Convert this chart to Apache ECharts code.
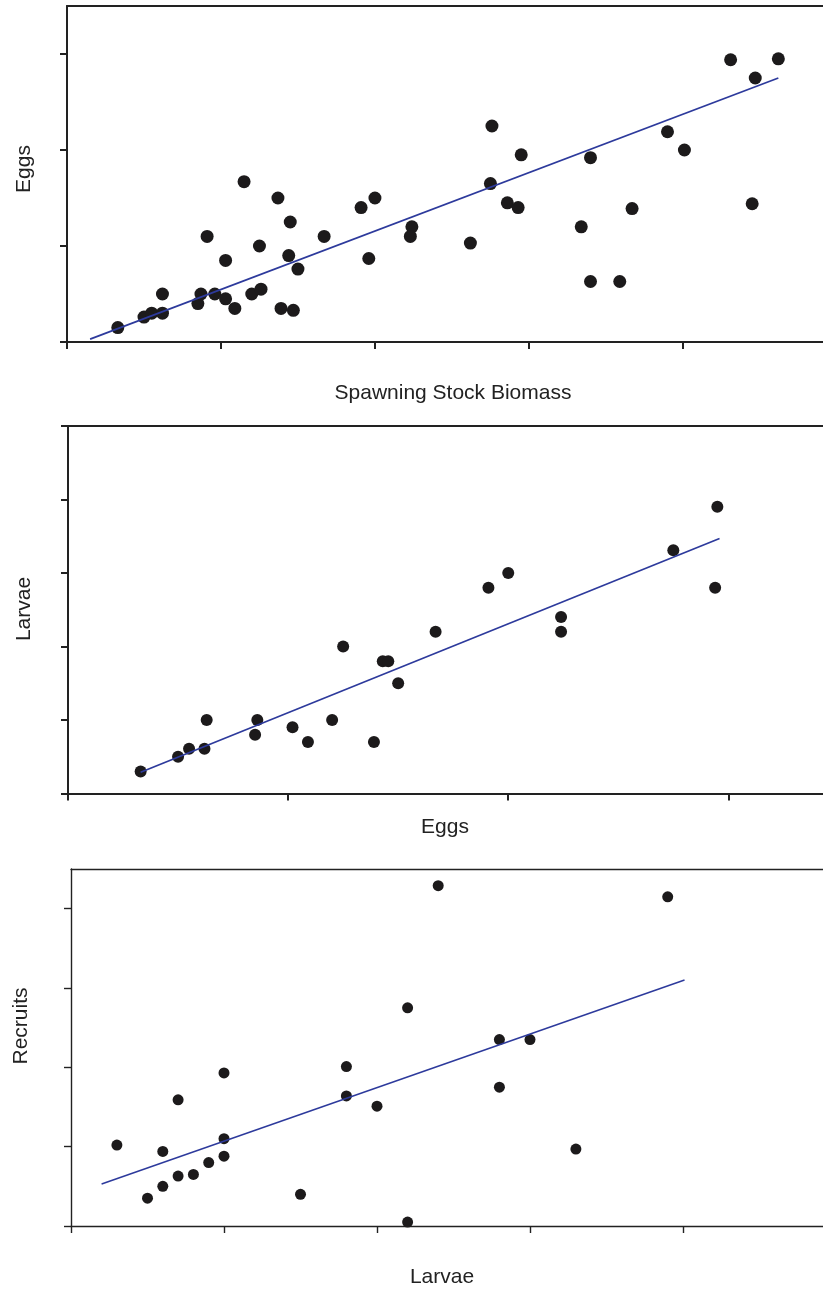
<!DOCTYPE html>
<html>
<head>
<meta charset="utf-8">
<title>Stock, eggs, larvae and recruits</title>
<script src="https://cdn.jsdelivr.net/npm/echarts@6/dist/echarts.min.js"></script>
<style>
  html, body { margin: 0; padding: 0; background: #ffffff; }
  #chart { width: 823px; height: 1289px; }
</style>
</head>
<body>
<div id="chart"></div>
<script>
// Panel 1: eggs against spawning stock biomass
const ssbX = [0.33, 0.50, 0.55, 0.62, 0.62, 0.85, 0.87, 0.91, 0.96, 1.03, 1.03, 1.09, 1.15, 1.20, 1.25,
  1.26, 1.37, 1.39, 1.45, 1.44, 1.47, 1.50, 1.67, 1.91, 1.96, 2.00, 2.24, 2.23, 2.62, 2.76,
  2.75, 2.86, 2.93, 2.95, 3.34, 3.40, 3.40, 3.59, 3.67, 3.90, 4.01, 4.31, 4.45, 4.47, 4.62];
const eggsY = [0.15, 0.26, 0.30, 0.30, 0.50, 0.40, 0.50, 1.10, 0.50, 0.45, 0.85, 0.35, 1.67, 0.50, 1.00,
  0.55, 1.50, 0.35, 1.25, 0.90, 0.33, 0.76, 1.10, 1.40, 0.87, 1.50, 1.20, 1.10, 1.03, 2.25,
  1.65, 1.45, 1.40, 1.95, 1.20, 0.63, 1.92, 0.63, 1.39, 2.19, 2.00, 2.94, 1.44, 2.75, 2.95];
const fit1X = [0.15, 4.62];
const fit1Y = [0.03, 2.75];

// Panel 2: larvae against eggs
const eggsX = [0.33, 0.50, 0.55, 0.62, 0.63, 0.85, 0.86, 1.02, 1.09, 1.20, 1.25, 1.39, 1.43, 1.455, 1.50,
  1.67, 1.91, 2.00, 2.24, 2.24, 2.75, 2.94, 2.95];
const larvaeY = [0.30, 0.50, 0.61, 0.61, 1.00, 0.80, 1.00, 0.90, 0.70, 1.00, 2.00, 0.70, 1.80, 1.80, 1.50,
  2.20, 2.80, 3.00, 2.40, 2.20, 3.31, 2.80, 3.90];
const fit2X = [0.33, 2.96];
const fit2Y = [0.29, 3.47];

// Panel 3: recruits against larvae
const larvaeX = [0.30, 0.50, 0.60, 0.60, 0.70, 0.70, 0.80, 0.90, 1.00, 1.00, 1.00, 1.50, 1.80, 1.80, 2.00,
  2.20, 2.20, 2.40, 2.80, 3.00, 2.80, 3.30, 3.90];
const recruitsY = [1.02, 0.35, 0.50, 0.94, 0.63, 1.59, 0.65, 0.80, 0.88, 1.10, 1.93, 0.40, 2.01, 1.64, 1.51,
  2.75, 0.05, 4.29, 2.35, 2.35, 1.75, 0.97, 4.15];
const fit3X = [0.20, 4.01];
const fit3Y = [0.53, 3.10];

// Tick positions on each axis (no tick labels are drawn)
const xTicks1 = [0, 1, 2, 3, 4];
const yTicks1 = [0, 1, 2, 3];
const xTicks2 = [0, 1, 2, 3];
const yTicks2 = [0, 1, 2, 3, 4, 5];
const xTicks3 = [0, 1, 2, 3, 4];
const yTicks3 = [0, 1, 2, 3, 4];

// Axis extents (the x axes run on past the last tick to the right edge)
const xMax = [4.91, 3.43, 4.915];
const yMax = [3.5, 5, 4.5];

// Axis titles
const titles = {
  x1: 'Spawning Stock Biomass', y1: 'Eggs',
  x2: 'Eggs', y2: 'Larvae',
  x3: 'Larvae', y3: 'Recruits'
};

const zip = (xs, ys) => xs.map((x, i) => [x, ys[i]]);

const FONT = '"Liberation Sans", Arial, Helvetica, sans-serif';
const INK = '#222222';
const DOT = '#1c1a1b';
const FIT = '#2d3a9c';

function valueAxis(gridIndex, min, max, ticks, lineWidth, opts) {
  return Object.assign({
    type: 'value',
    gridIndex: gridIndex,
    min: min,
    max: max,
    interval: 1,
    splitLine: { show: false },
    axisLabel: { show: false },
    axisLine: { show: true, onZero: false, lineStyle: { color: INK, width: lineWidth } },
    axisTick: {
      show: true, inside: false, length: 7, customValues: ticks,
      lineStyle: { color: INK, width: lineWidth }
    }
  }, opts || {});
}

function frameAxis(gridIndex, min, max, lineWidth) {
  // top edge of the plot frame
  return {
    type: 'value', gridIndex: gridIndex, position: 'top', min: min, max: max,
    splitLine: { show: false }, axisLabel: { show: false }, axisTick: { show: false },
    axisLine: { show: true, onZero: false, lineStyle: { color: INK, width: lineWidth } }
  };
}

function textEl(text, x, y, rotate) {
  return {
    type: 'text',
    x: x, y: y,
    rotation: rotate ? Math.PI / 2 : 0,
    style: {
      text: text,
      fill: INK,
      font: '21px ' + FONT,
      align: 'center', verticalAlign: 'middle',
      textAlign: 'center', textVerticalAlign: 'middle'
    }
  };
}

const chart = echarts.init(document.getElementById('chart'), null, { renderer: 'canvas' });

chart.setOption({
  backgroundColor: '#ffffff',
  animation: false,
  grid: [
    { left: 67, top: 6, right: 0, height: 336 },
    { left: 68, top: 426, right: 0, height: 367.5 },
    { left: 71, top: 869, right: 0, height: 357 }
  ],
  xAxis: [
    valueAxis(0, 0, xMax[0], xTicks1, 2, { position: 'bottom' }),
    valueAxis(1, 0, xMax[1], xTicks2, 2, { position: 'bottom' }),
    valueAxis(2, 0, xMax[2], xTicks3, 1.4, { position: 'bottom' }),
    frameAxis(0, 0, xMax[0], 2),
    frameAxis(1, 0, xMax[1], 2),
    frameAxis(2, 0, xMax[2], 1.4)
  ],
  yAxis: [
    valueAxis(0, 0, yMax[0], yTicks1, 2, { position: 'left' }),
    valueAxis(1, 0, yMax[1], yTicks2, 2, { position: 'left' }),
    valueAxis(2, 0, yMax[2], yTicks3, 1.4, { position: 'left' })
  ],
  series: [
    { type: 'scatter', xAxisIndex: 0, yAxisIndex: 0, data: zip(ssbX, eggsY),
      symbolSize: 13, itemStyle: { color: DOT, opacity: 1 }, z: 2 },
    { type: 'line', xAxisIndex: 0, yAxisIndex: 0, data: zip(fit1X, fit1Y),
      showSymbol: false, lineStyle: { color: FIT, width: 1.7 }, z: 3 },
    { type: 'scatter', xAxisIndex: 1, yAxisIndex: 1, data: zip(eggsX, larvaeY),
      symbolSize: 12, itemStyle: { color: DOT, opacity: 1 }, z: 2 },
    { type: 'line', xAxisIndex: 1, yAxisIndex: 1, data: zip(fit2X, fit2Y),
      showSymbol: false, lineStyle: { color: FIT, width: 1.7 }, z: 3 },
    { type: 'scatter', xAxisIndex: 2, yAxisIndex: 2, data: zip(larvaeX, recruitsY),
      symbolSize: 11, itemStyle: { color: DOT, opacity: 1 }, z: 2 },
    { type: 'line', xAxisIndex: 2, yAxisIndex: 2, data: zip(fit3X, fit3Y),
      showSymbol: false, lineStyle: { color: FIT, width: 1.5 }, z: 3 }
  ],
  graphic: [
    textEl(titles.x1, 453, 393, false),
    textEl(titles.y1, 24, 169, true),
    textEl(titles.x2, 445, 827, false),
    textEl(titles.y2, 24, 609, true),
    textEl(titles.x3, 442, 1277, false),
    textEl(titles.y3, 21, 1026, true)
  ]
});
</script>
</body>
</html>
